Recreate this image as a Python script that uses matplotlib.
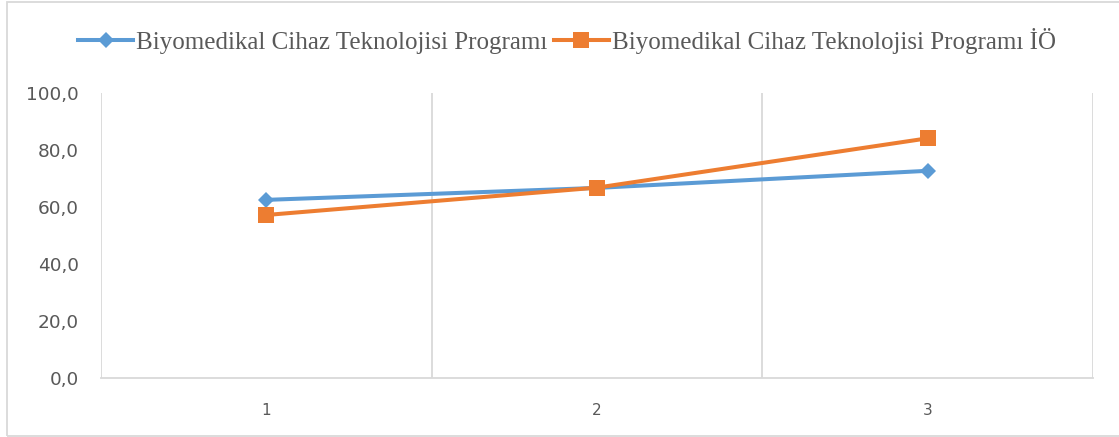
import matplotlib
matplotlib.use("Agg")
import matplotlib.pyplot as plt
from matplotlib.patches import Rectangle

categories = ["1", "2", "3"]
series_names = [
    "Biyomedikal Cihaz Teknolojisi Programı",
    "Biyomedikal Cihaz Teknolojisi Programı İÖ",
]
blue_values = [62.5, 66.7, 72.7]
orange_values = [57.2, 66.8, 84.1]
y_ticks = [0, 20, 40, 60, 80, 100]

W, H, DPI = 1119, 437, 100
fig = plt.figure(figsize=(W / DPI, H / DPI), dpi=DPI)

# plot area in pixel coordinates
left, right, top, bottom = 101, 1093, 93, 378
ax = fig.add_axes([left / W, 1 - bottom / H, (right - left) / W, (bottom - top) / H])

x = list(range(1, len(categories) + 1))
blue = "#5B9BD5"
orange = "#ED7D31"
grid = "#D9D9D9"
label_col = "#595959"

l1, = ax.plot(x, blue_values, color=blue, lw=2.9, marker="D", ms=7.7,
              markeredgewidth=0, zorder=3)
l2, = ax.plot(x, orange_values, color=orange, lw=2.9, marker="s", ms=12,
              markeredgewidth=0, zorder=4)

ax.set_xlim(0.5, len(categories) + 0.5)
ax.set_ylim(0, 100)

# vertical separators between categories
for xv in [0.5 + i for i in range(len(categories) + 1)]:
    ax.axvline(xv, color=grid, lw=1.3, zorder=1)

for s in ["top", "right", "left"]:
    ax.spines[s].set_visible(False)
ax.spines["bottom"].set_color(grid)
ax.spines["bottom"].set_linewidth(1.3)

ax.set_xticks(x)
ax.set_xticklabels(categories)
ax.set_yticks(y_ticks)
ax.set_yticklabels([f"{v:.1f}".replace(".", ",") for v in y_ticks])
ax.tick_params(axis="x", length=0, pad=18, labelsize=11, labelcolor=label_col)
ax.tick_params(axis="y", length=0, pad=16, labelsize=13.3, labelcolor=label_col)
for t in ax.get_xticklabels() + ax.get_yticklabels():
    t.set_family("DejaVu Sans")

leg = fig.legend([l1, l2], series_names, loc="center", ncol=2,
                 bbox_to_anchor=(567 / W, 1 - 41 / H), frameon=False,
                 prop={"family": "Liberation Serif", "size": 18},
                 handlelength=2.2, handletextpad=0.12, columnspacing=0.25,
                 labelcolor=label_col)

# chart border
fig.patches.append(Rectangle((7 / W, 1 - 436 / H), (W + 5 - 7) / W, (436 - 2) / H,
                             transform=fig.transFigure, fill=False,
                             edgecolor=grid, lw=1.3))

fig.savefig("out.png", dpi=DPI)
